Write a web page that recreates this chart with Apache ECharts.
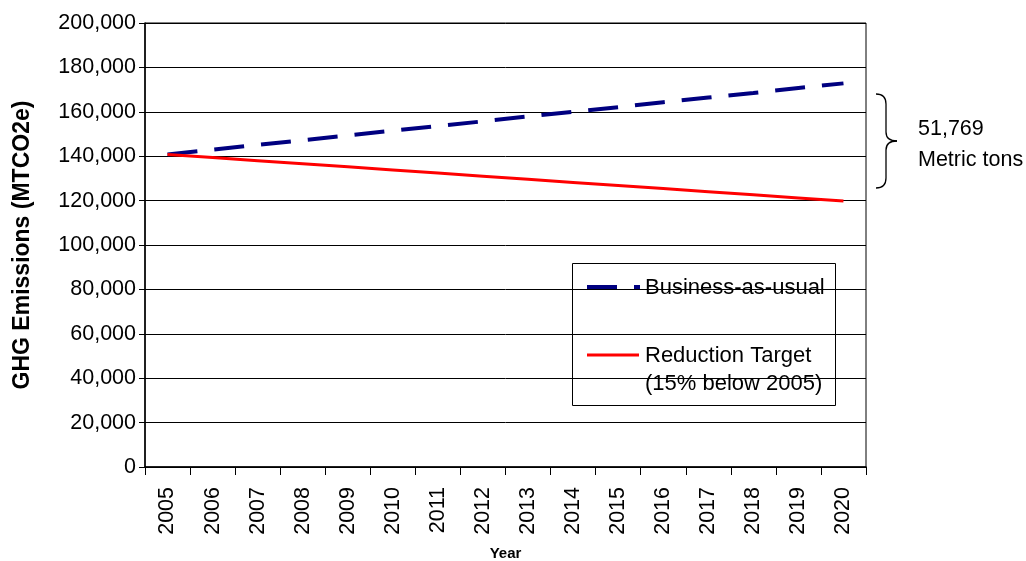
<!DOCTYPE html>
<html><head><meta charset="utf-8">
<script src="https://cdn.jsdelivr.net/npm/echarts@6/dist/echarts.min.js"></script>
<style>html,body{margin:0;padding:0;background:#fff}#c{width:1026px;height:561px}</style>
</head><body><div id="c"></div>
<script>
const years = ['2005','2006','2007','2008','2009','2010','2011','2012','2013','2014','2015','2016','2017','2018','2019','2020'];
const businessAsUsual = [140800,142900,145100,147200,149300,151500,153600,155700,157900,160000,162100,164300,166400,168500,170700,172800];
const reductionTarget = [140800,139400,138000,136600,135200,133800,132400,131000,129600,128200,126800,125400,124000,122600,121200,119800];
const legendNames = ['Business-as-usual','Reduction Target','(15% below 2005)'];
const gapLabel = ['51,769','Metric tons'];
const F = 'Liberation Sans, Arial, sans-serif';
const chart = echarts.init(document.getElementById('c'));
const brace = {stroke:'#000',lineWidth:1.3,fill:'none'};
const txt = (x,y,t,s)=>({type:'text',x:x,y:y,style:{text:t,font:(s||21.5)+'px '+F,fill:'#000',textVerticalAlign:'middle'}});
chart.setOption({
  animation:false,
  grid:{left:145,right:160,top:23,bottom:94,show:true,borderColor:'#000',borderWidth:1,containLabel:false,outerBoundsMode:'none'},
  xAxis:{type:'category',data:years,boundaryGap:true,
    name:'Year',nameLocation:'middle',nameGap:79,
    nameTextStyle:{fontFamily:F,fontWeight:'bold',fontSize:15,color:'#000'},
    axisLine:{lineStyle:{color:'#000',width:1.5}},
    axisTick:{show:true,length:8,lineStyle:{color:'#000'}},
    axisLabel:{rotate:90,fontFamily:F,fontSize:21.5,color:'#000',margin:20}},
  yAxis:{type:'value',min:0,max:200000,interval:20000,
    name:'GHG Emissions (MTCO2e)',nameLocation:'middle',nameGap:111,
    nameTextStyle:{fontFamily:F,fontWeight:'bold',fontSize:23,color:'#000'},
    axisLine:{show:true,lineStyle:{color:'#000',width:1.5}},
    axisTick:{show:true,length:6,lineStyle:{color:'#000'}},
    splitLine:{lineStyle:{color:'#000',width:1}},
    axisLabel:{fontFamily:F,fontSize:21.5,color:'#000',margin:9,
      formatter:v=>v.toLocaleString('en-US')}},
  series:[
    {name:legendNames[0],type:'line',data:businessAsUsual,symbol:'none',
     lineStyle:{color:'#000080',width:4,type:[30,17]}},
    {name:legendNames[1],type:'line',data:reductionTarget,symbol:'none',
     lineStyle:{color:'#ff0000',width:3}}
  ],
  graphic:[
    {type:'rect',shape:{x:572.5,y:263.5,width:263,height:142},style:{fill:'#fff',stroke:'#000',lineWidth:1}},
    {type:'line',shape:{x1:587,y1:287,x2:617,y2:287},style:{stroke:'#000080',lineWidth:4}},
    {type:'line',shape:{x1:634,y1:287,x2:640,y2:287},style:{stroke:'#000080',lineWidth:4}},
    txt(645,288,legendNames[0],22),
    {type:'line',shape:{x1:587,y1:355,x2:639,y2:355},style:{stroke:'#ff0000',lineWidth:3}},
    txt(645,356,legendNames[1],22),
    txt(645,384,legendNames[2],22),
    {type:'bezierCurve',shape:{x1:876,y1:94,cpx1:886,cpy1:94,x2:886,y2:104},style:brace},
    {type:'line',shape:{x1:886,y1:104,x2:886,y2:132},style:brace},
    {type:'bezierCurve',shape:{x1:886,y1:132,cpx1:886,cpy1:141,x2:897,y2:141},style:brace},
    {type:'bezierCurve',shape:{x1:897,y1:141,cpx1:886,cpy1:141,x2:886,y2:150},style:brace},
    {type:'line',shape:{x1:886,y1:150,x2:886,y2:178},style:brace},
    {type:'bezierCurve',shape:{x1:886,y1:178,cpx1:886,cpy1:188,x2:876,y2:188},style:brace},
    txt(918,129,gapLabel[0]),
    txt(918,160,gapLabel[1])
  ]
});
</script></body></html>
